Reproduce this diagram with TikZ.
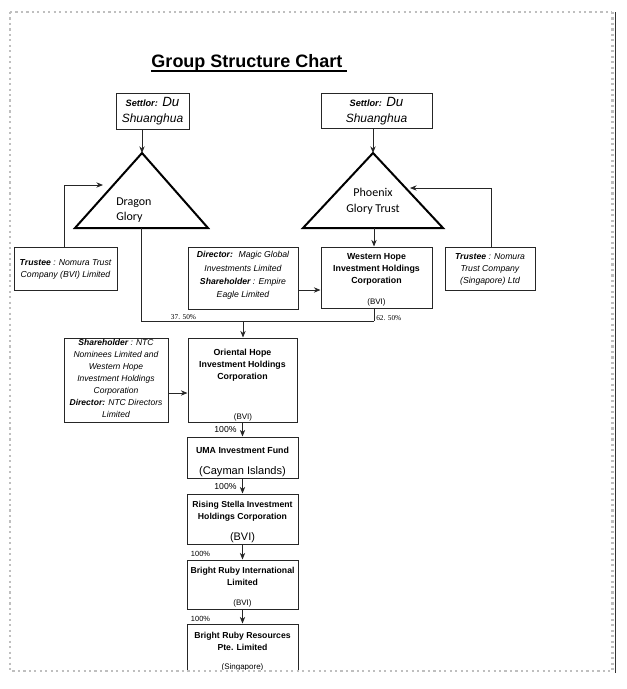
\documentclass[tikz,border=0pt]{standalone}
\usepackage{fontspec}
\setmainfont{Liberation Sans}
\newfontfamily\calfont{Carlito}
\newfontfamily\serfont{Liberation Serif}
\usetikzlibrary{arrows.meta}
\begin{document}
\begin{tikzpicture}[x=0.75pt,y=-0.75pt,
  box/.style={draw=black!85, line width=0.75pt, inner sep=0pt},
  tri/.style={draw=black, line width=1.5pt, line join=miter},
  conn/.style={draw=black!85, line width=0.6pt},
  arr/.style={conn, -{Stealth[length=5pt,width=4pt]}},
  btxt/.style={inner sep=0pt, align=center, font=\fontsize{6.6}{9}\selectfont\bfseries},
  itxt/.style={inner sep=0pt, align=center, font=\fontsize{6.5}{9}\selectfont\itshape},
  small/.style={inner sep=0pt, font=\fontsize{6}{7}\selectfont},
  pct/.style={inner sep=0pt, font=\fontsize{6.5}{7}\selectfont},
  ser/.style={inner sep=0pt, font=\serfont\fontsize{5.5}{6}\selectfont},
  border/.style={gray!50, line width=1.6pt, dash pattern=on 1.6pt off 2.5pt}
]
\useasboundingbox (0,0) rectangle (626,689);

% border
\draw[border] (10,12) -- (612,12);
\draw[border] (10,12) -- (10,671) -- (613,671);
\draw[border] (612.5,12) -- (612.5,671);
\draw[black!80, line width=1.3pt] (615.5,12) -- (615.5,673);

% title
\node[inner sep=0pt, anchor=base, font=\fontsize{13.5}{15}\selectfont\bfseries] (title) at (247,67) {Group Structure Chart};
\draw[line width=1pt] ([yshift=-3pt]title.base west) -- ([xshift=3pt,yshift=-3pt]title.base east);

% settlor boxes
\node[box, minimum width=54.75pt, minimum height=27pt] (s1) at (152.5,111) {};
\node[inner sep=0pt, align=center, font=\fontsize{9}{12}\selectfont\itshape] (s1t) at (s1) {{\fontsize{6.9}{12}\selectfont\bfseries Settlor:} {\fontsize{10}{12}\selectfont Du}\\Shuanghua};
\node[box, minimum width=83.25pt, minimum height=26.25pt] (s2) at (376.5,110.5) {};
\node[inner sep=0pt, align=center, font=\fontsize{9}{12}\selectfont\itshape] (s2t) at (376.5,111) {{\fontsize{6.9}{12}\selectfont\bfseries Settlor:} {\fontsize{10}{12}\selectfont Du}\\Shuanghua};

% triangles
\coordinate (dgA) at (142,153);
\coordinate (dgL) at (75,228);
\coordinate (dgR) at (208,228);
\coordinate (dgB) at (141,228);
\coordinate (dgS) at (103,185);
\draw[tri] (dgA) -- (dgR) -- (dgL) -- cycle;
\node[inner sep=0pt, anchor=west, align=left, font=\calfont\fontsize{9}{11.25}\selectfont] (dgt) at (116,210.5) {Dragon\\Glory};

\coordinate (phA) at (373,153);
\coordinate (phL) at (303,228);
\coordinate (phR) at (443,228);
\coordinate (phB) at (374,228);
\coordinate (phS) at (410,188);
\draw[tri] (phA) -- (phR) -- (phL) -- cycle;
\node[inner sep=0pt, align=center, font=\calfont\fontsize{9}{12}\selectfont] (pht) at (373,201) {Phoenix\\Glory Trust};

% second row
\node[box, minimum width=77.25pt, minimum height=32.25pt] (tl) at (65.5,268.5) {};
\node[itxt] (tlt) at (65.5,269) {\textbf{Trustee} : Nomura Trust\\Company (BVI) Limited};

\node[box, minimum width=82.5pt, minimum height=46.5pt] (dir) at (243,278) {};
\node[itxt, font=\fontsize{6.5}{10}\selectfont\itshape] (dirt) at (243,275.5) {\textbf{Director:}~ Magic Global\\Investments Limited\\\textbf{Shareholder} : Empire\\Eagle Limited};

\node[box, minimum width=83.25pt, minimum height=45.75pt] (wh) at (376.5,277.5) {};
\node[btxt] (wht) at (376.5,269) {Western Hope\\Investment Holdings\\Corporation};
\node[small] (whb) at (376.5,302) {(BVI)};

\node[box, minimum width=67.5pt, minimum height=32.25pt] (tr) at (490,268.5) {};
\node[itxt] (trt) at (490,269) {\textbf{Trustee} : Nomura\\Trust Company\\(Singapore) Ltd};

% third row
\node[box, minimum width=78pt, minimum height=63pt] (sh) at (116,380) {};
\node[itxt, font=\fontsize{6.4}{8.9}\selectfont\itshape] (sht) at (116,378.5) {\textbf{Shareholder} : NTC\\Nominees Limited and\\Western Hope\\Investment Holdings\\Corporation\\\textbf{Director:} NTC Directors\\Limited};

\node[box, minimum width=81.75pt, minimum height=63pt] (oh) at (242.5,380) {};
\node[btxt] (oht) at (242.5,365) {Oriental Hope\\Investment Holdings\\Corporation};
\node[small] (ohb) at (243,417) {(BVI)};

% chain
\node[box, minimum width=83.25pt, minimum height=30.75pt] (uma) at (242.5,457.5) {};
\node[btxt] (umat) at (242.5,450) {UMA Investment Fund};
\node[inner sep=0pt, font=\fontsize{8.3}{9}\selectfont] (umab) at (242.5,471.5) {(Cayman Islands)};

\node[box, minimum width=83.25pt, minimum height=37.5pt] (rs) at (242.5,519) {};
\node[btxt, font=\fontsize{6.5}{9}\selectfont\bfseries] (rst) at (242.5,511) {Rising Stella Investment\\Holdings Corporation};
\node[inner sep=0pt, font=\fontsize{8.2}{9}\selectfont] (rsb) at (242.5,537.5) {(BVI)};

\node[box, minimum width=83.25pt, minimum height=36.75pt] (bri) at (242.5,584.5) {};
\node[btxt, font=\fontsize{6.5}{9}\selectfont\bfseries] (brit) at (242.5,576) {Bright Ruby International\\Limited};
\node[small] (brib) at (242.5,603) {(BVI)};

\begin{scope}
\clip (0,0) rectangle (626,669);
\node[box, minimum width=83.25pt, minimum height=57pt] (brr) at (242.5,662) {};
\node[btxt, font=\fontsize{6.5}{9}\selectfont\bfseries] (brrt) at (242.5,641) {Bright Ruby Resources\\Pte. Limited};
\node[small] (brrb) at (242.5,667) {(Singapore)};
\end{scope}

% connectors
\draw[arr] (s1.south -| dgA) -- (dgA);
\draw[arr] (s2.south -| phA) -- (phA);
\draw[arr] (tl.north -| 64,0) |- (dgS);
\draw[arr] (tr.north -| 491,0) |- (phS);
\draw[arr] (phB) -- (phB |- wh.north);
\draw[arr] ([yshift=-9pt]dir.east) -- ([yshift=-9pt]dir.east -| wh.west);
\coordinate (jn) at (374,321);
\coordinate (jm) at (243,321);
\draw[conn] (dgB) |- (jn);
\draw[conn] (wh.south -| jn) -- (jn);
\draw[arr] (jm) -- (jm |- oh.north);
\draw[arr] ([yshift=-9.75pt]sh.east) -- ([yshift=-9.75pt]sh.east -| oh.west);
\draw[arr] (oh.south) -- (uma.north);
\draw[arr] (uma.south) -- (rs.north);
\draw[arr] (rs.south) -- (bri.north);
\draw[arr] (bri.south) -- (brr.north);

% percentages
\node[ser] (p1) at (183.5,317) {37. 50\%};
\node[ser, anchor=west] (p2) at (376,318) {62. 50\%};
\node[pct] (p3) at (225.5,430) {100\%};
\node[pct] (p4) at (225.5,487) {100\%};
\node[pct, font=\fontsize{5.6}{6}\selectfont] (p5) at (200.5,554) {100\%};
\node[pct, font=\fontsize{5.6}{6}\selectfont] (p6) at (200.5,619) {100\%};
\end{tikzpicture}
\end{document}
